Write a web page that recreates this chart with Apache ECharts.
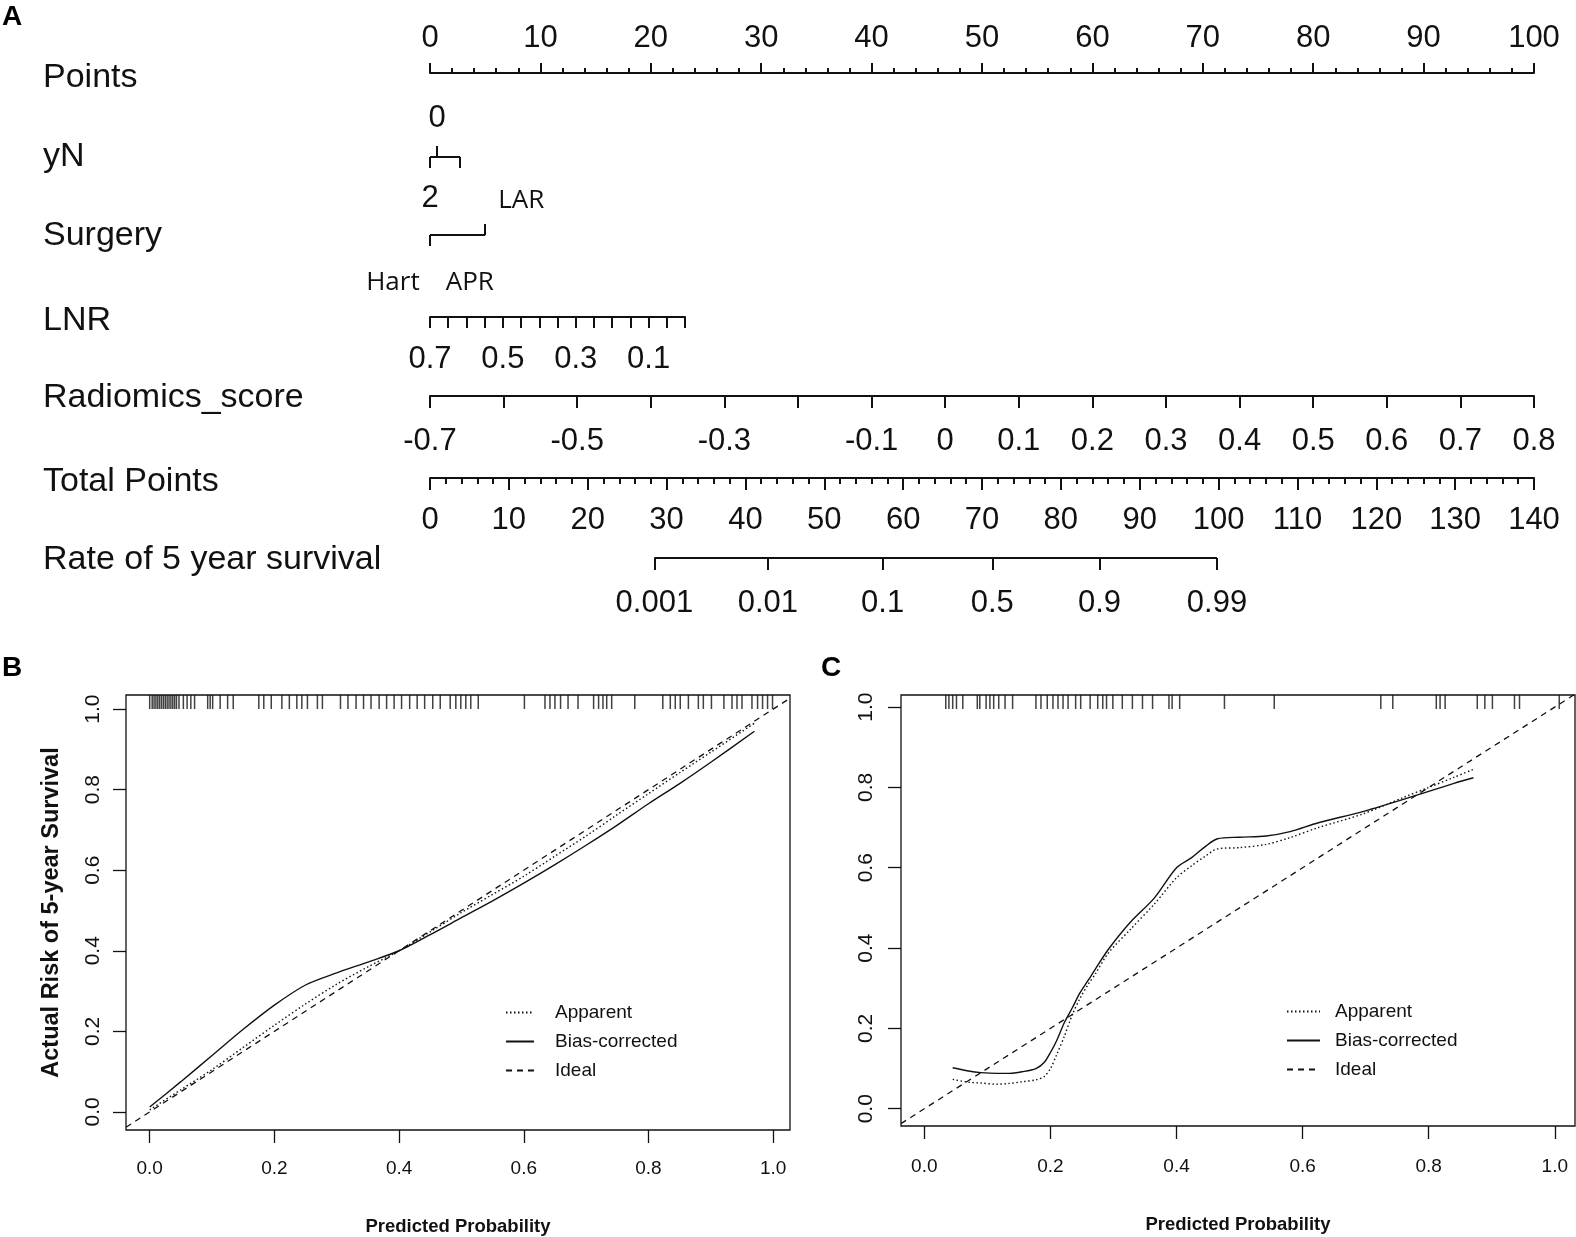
<!DOCTYPE html>
<html>
<head>
<meta charset="utf-8">
<script src="https://cdn.jsdelivr.net/npm/echarts@6/dist/echarts.min.js"></script>
<style>
  html, body { margin: 0; padding: 0; background: #fff; }
  #main { width: 1576px; height: 1237px; }
</style>
</head>
<body>
<div id="main"></div>
<script>
// ---- A: nomogram ----
var rowNames = ['Points', 'yN', 'Surgery', 'LNR', 'Radiomics_score', 'Total Points', 'Rate of 5 year survival'];
var yNLevels = ['0', '1', '2'];
var yNPoints = [0.64, 2.73, 0];
var surgeryLevels = ['Hart', 'APR', 'LAR'];
var surgeryPoints = [0, 0, 5.0];
var lnrLabels = [0.7, 0.5, 0.3, 0.1];
var radiomicsLabels = [-0.7, -0.5, -0.3, -0.1, 0, 0.1, 0.2, 0.3, 0.4, 0.5, 0.6, 0.7, 0.8];
var survivalProb = [0.001, 0.01, 0.1, 0.5, 0.9, 0.99];
var survivalTotalPoints = [28.45, 42.85, 57.4, 71.3, 84.9, 99.8];

// ---- B: calibration (training) ----
var bPred = [0.00, 0.05, 0.10, 0.15, 0.20, 0.25, 0.30, 0.35, 0.40, 0.45, 0.50, 0.55, 0.60, 0.65, 0.70, 0.75, 0.80, 0.85, 0.90, 0.97];
var bApparent = [0.005, 0.055, 0.105, 0.16, 0.215, 0.268, 0.317, 0.36, 0.40, 0.447, 0.495, 0.54, 0.585, 0.635, 0.685, 0.738, 0.79, 0.842, 0.893, 0.965];
var bBias = [0.012, 0.075, 0.14, 0.205, 0.265, 0.315, 0.345, 0.372, 0.40, 0.44, 0.482, 0.524, 0.568, 0.614, 0.662, 0.712, 0.765, 0.815, 0.868, 0.945];
var bRug = [0.000, 0.004, 0.007, 0.010, 0.013, 0.016, 0.019, 0.022, 0.025, 0.028, 0.031, 0.034, 0.037, 0.040, 0.043,
  0.047, 0.054, 0.060, 0.066, 0.072, 0.093, 0.097, 0.101, 0.113, 0.125, 0.134, 0.175, 0.183, 0.195, 0.212, 0.224,
  0.236, 0.244, 0.253, 0.269, 0.277, 0.306, 0.318, 0.331, 0.343, 0.355, 0.368, 0.380, 0.392, 0.404, 0.417, 0.429,
  0.441, 0.454, 0.466, 0.482, 0.491, 0.499, 0.507, 0.515, 0.527, 0.601, 0.634, 0.642, 0.650, 0.659, 0.671, 0.687,
  0.712, 0.720, 0.727, 0.733, 0.741, 0.778, 0.823, 0.835, 0.843, 0.851, 0.864, 0.880, 0.888, 0.901, 0.921, 0.934,
  0.942, 0.950, 0.966, 0.975, 0.983, 0.991, 0.999];

// ---- C: calibration (validation) ----
var cPred = [0.045, 0.07, 0.09, 0.115, 0.135, 0.155, 0.177, 0.19, 0.20, 0.21, 0.222, 0.235, 0.247, 0.26, 0.271, 0.292,
  0.326, 0.365, 0.40, 0.424, 0.445, 0.465, 0.50, 0.542, 0.58, 0.625, 0.694, 0.76, 0.80, 0.84, 0.871];
var cApparent = [0.073, 0.066, 0.064, 0.061, 0.063, 0.067, 0.072, 0.08, 0.10, 0.135, 0.18, 0.235, 0.275, 0.31, 0.335, 0.388,
  0.445, 0.51, 0.575, 0.605, 0.628, 0.647, 0.65, 0.658, 0.675, 0.70, 0.733, 0.775, 0.80, 0.825, 0.845];
var cBias = [0.102, 0.094, 0.09, 0.088, 0.088, 0.092, 0.10, 0.115, 0.14, 0.17, 0.214, 0.252, 0.289, 0.32, 0.347, 0.397,
  0.463, 0.525, 0.60, 0.625, 0.652, 0.672, 0.676, 0.679, 0.69, 0.712, 0.739, 0.77, 0.79, 0.81, 0.824];
var cRug = [0.034, 0.039, 0.045, 0.051, 0.061, 0.084, 0.088, 0.098, 0.104, 0.110, 0.118, 0.128, 0.140, 0.177, 0.185,
  0.195, 0.204, 0.212, 0.220, 0.228, 0.240, 0.248, 0.263, 0.275, 0.283, 0.289, 0.299, 0.314, 0.330, 0.346, 0.362,
  0.388, 0.393, 0.405, 0.476, 0.555, 0.724, 0.743, 0.812, 0.818, 0.826, 0.877, 0.889, 0.901, 0.936, 0.944, 1.007];

var calTicks = [0, 0.2, 0.4, 0.6, 0.8, 1.0];
var legendNames = ['Apparent', 'Bias-corrected', 'Ideal'];

// ---- layout / style ----
var INK = '#111';
var RFONT = '"Liberation Sans", Arial, sans-serif';
var LABELFONT = '"Open Sans", "Noto Sans", sans-serif';
var rowY = [73, 157, 235, 317, 396, 478, 558];
var rowLabelY = [78, 157, 236, 321, 398, 482, 560];
var bRange = { xMin: -0.038, xMax: 1.027, yMin: -0.045, yMax: 1.035 };
var cRange = { xMin: -0.037, xMax: 1.032, yMin: -0.043, yMax: 1.03 };

function nomoAxis(o) {
  return {
    gridIndex: o.grid, type: 'value', position: o.pos, min: o.min, max: o.max,
    inverse: !!o.inverse, interval: o.interval,
    splitLine: { show: false },
    axisLine: { show: o.line !== false, onZero: false, lineStyle: { color: INK, width: 2 } },
    axisTick: { show: true, length: o.tick || 10, customValues: o.tickValues, lineStyle: { color: INK, width: 2 } },
    minorTick: { show: !!o.minor, splitNumber: 5, length: o.minor || 5, lineStyle: { color: INK, width: 2 } },
    axisLabel: {
      show: o.labels !== false, customValues: o.labelValues, formatter: o.formatter, margin: o.margin,
      color: INK, fontFamily: o.font || RFONT, fontSize: o.size || 31, align: o.align, padding: o.padding
    }
  };
}

function calX(grid, r, margin, gap) {
  return {
    gridIndex: grid, type: 'value', min: r.xMin, max: r.xMax,
    splitLine: { show: false },
    axisLine: { show: false, onZero: false },
    axisTick: { show: true, customValues: calTicks, length: 13, lineStyle: { color: INK, width: 1.3 } },
    axisLabel: {
      customValues: calTicks, margin: margin, color: INK, fontFamily: RFONT, fontSize: 19,
      formatter: function (v) { return v.toFixed(1); }
    },
    name: 'Predicted Probability', nameLocation: 'middle', nameGap: gap,
    nameTextStyle: { fontFamily: RFONT, fontWeight: 'bold', fontSize: 18.5, color: INK }
  };
}

function calY(grid, r, margin, title) {
  return {
    gridIndex: grid, type: 'value', min: r.yMin, max: r.yMax,
    splitLine: { show: false },
    axisLine: { show: false, onZero: false },
    axisTick: { show: true, customValues: calTicks, length: 13, lineStyle: { color: INK, width: 1.3 } },
    axisLabel: {
      customValues: calTicks, margin: margin, rotate: 90, color: INK, fontFamily: RFONT, fontSize: 21,
      formatter: function (v) { return v.toFixed(1); }
    },
    name: title, nameLocation: 'middle', nameGap: 62,
    nameTextStyle: { fontFamily: RFONT, fontWeight: 'bold', fontSize: 23.5, color: INK }
  };
}

function pairs(xs, ys) {
  return xs.map(function (x, i) { return [x, ys[i]]; });
}

function segment(xIdx, yIdx, values) {
  return {
    type: 'line', xAxisIndex: xIdx, yAxisIndex: yIdx, silent: true, symbol: 'none',
    data: [[Math.min.apply(null, values), 0], [Math.max.apply(null, values), 0]],
    lineStyle: { color: INK, width: 2 }
  };
}

function calSeries(xIdx, yIdx, r, pred, app, bias, rug) {
  return [
    {
      name: 'Apparent', type: 'line', xAxisIndex: xIdx, yAxisIndex: yIdx, symbol: 'none', color: INK,
      smooth: 0.3, data: pairs(pred, app),
      lineStyle: { color: INK, width: 1.4, type: [1.5, 2.5] }
    },
    {
      name: 'Bias-corrected', type: 'line', xAxisIndex: xIdx, yAxisIndex: yIdx, symbol: 'none', color: INK,
      smooth: 0.3, data: pairs(pred, bias),
      lineStyle: { color: INK, width: 1.4, type: 'solid' }
    },
    {
      name: 'Ideal', type: 'line', xAxisIndex: xIdx, yAxisIndex: yIdx, symbol: 'none', color: INK,
      data: [[r.xMin, r.xMin], [r.xMax, r.xMax]],
      lineStyle: { color: INK, width: 1.3, type: [6, 5] }
    },
    {
      type: 'scatter', xAxisIndex: xIdx, yAxisIndex: yIdx, silent: true,
      symbol: 'rect', symbolSize: [1.5, 14], symbolOffset: [0, 7],
      data: rug.map(function (x) { return [x, r.yMax]; }),
      itemStyle: { color: INK }
    }
  ];
}

var chart = echarts.init(document.getElementById('main'), null, { renderer: 'canvas' });

var grids = [];
for (var i = 0; i < rowY.length; i++) {
  grids.push({ left: 430, right: 42, top: rowY[i], height: 0, outerBoundsMode: 'none' });
}
grids[3].right = 891; // LNR row spans 0.7 .. 0
grids.push({ left: 126, right: 786, top: 695, bottom: 107, show: true,
  borderColor: INK, borderWidth: 1.3, backgroundColor: 'transparent', outerBoundsMode: 'none' });
grids.push({ left: 901, right: 1, top: 695, bottom: 111, show: true,
  borderColor: INK, borderWidth: 1.3, backgroundColor: 'transparent', outerBoundsMode: 'none' });

var yAxes = [];
for (var j = 0; j < rowY.length; j++) {
  yAxes.push({ gridIndex: j, type: 'value', min: 0, max: 1, show: false });
}
yAxes.push(calY(7, bRange, 22, 'Actual Risk of 5-year Survival'));
yAxes.push(calY(8, cRange, 24, ''));

var xAxes = [
  // 0 Points
  nomoAxis({ grid: 0, pos: 'top', min: 0, max: 100, interval: 10, tick: 10, minor: 5, margin: 19 }),
  // 1 yN above
  nomoAxis({ grid: 1, pos: 'top', min: 0, max: 100, line: false, tick: 11,
    tickValues: [yNPoints[0]], labelValues: [yNPoints[0]], margin: 23,
    formatter: function (v) { return yNLevels[yNPoints.indexOf(v)]; } }),
  // 2 yN below
  nomoAxis({ grid: 1, pos: 'bottom', min: 0, max: 100, line: false, tick: 11,
    tickValues: [yNPoints[1], yNPoints[2]], labelValues: [yNPoints[2]], margin: 26,
    formatter: function (v) { return yNLevels[yNPoints.indexOf(v)]; } }),
  // 3 Surgery above
  nomoAxis({ grid: 2, pos: 'top', min: 0, max: 100, line: false, tick: 11,
    tickValues: [surgeryPoints[2]], labelValues: [surgeryPoints[2]], margin: 21,
    font: LABELFONT, size: 26, align: 'left', padding: [0, 0, 0, 13],
    formatter: function () { return surgeryLevels[2]; } }),
  // 4 Surgery below
  nomoAxis({ grid: 2, pos: 'bottom', min: 0, max: 100, line: false, tick: 11,
    tickValues: [0], labelValues: [0], margin: 35, font: LABELFONT, size: 26,
    formatter: function (v) {
      return surgeryLevels.filter(function (s, k) { return surgeryPoints[k] === v; }).join('\u2003');
    } }),
  // 5 LNR
  nomoAxis({ grid: 3, pos: 'bottom', min: 0, max: 0.7, inverse: true, interval: 0.05, tick: 11,
    labelValues: lnrLabels, margin: 27, formatter: function (v) { return v.toFixed(1); } }),
  // 6 Radiomics_score
  nomoAxis({ grid: 4, pos: 'bottom', min: -0.7, max: 0.8, interval: 0.1, tick: 12,
    labelValues: radiomicsLabels, margin: 30,
    formatter: function (v) { return String(Math.round(v * 10) / 10); } }),
  // 7 Total Points
  nomoAxis({ grid: 5, pos: 'bottom', min: 0, max: 140, interval: 10, tick: 12, minor: 6, margin: 27 }),
  // 8 Rate of 5 year survival
  nomoAxis({ grid: 6, pos: 'bottom', min: 0, max: 140, line: false, tick: 12,
    tickValues: survivalTotalPoints, labelValues: survivalTotalPoints, margin: 30,
    formatter: function (v) { return String(survivalProb[survivalTotalPoints.indexOf(v)]); } }),
  // 9, 10 calibration x axes
  calX(7, bRange, 29.5, 87),
  calX(8, cRange, 31.5, 89)
];

var series = [
  segment(2, 1, yNPoints),
  segment(4, 2, surgeryPoints),
  segment(8, 6, survivalTotalPoints)
].concat(
  calSeries(9, 7, bRange, bPred, bApparent, bBias, bRug),
  calSeries(10, 8, cRange, cPred, cApparent, cBias, cRug)
);

function legendAt(left, top, w, pad) {
  return {
    left: left, top: top, orient: 'vertical', data: legendNames, selectedMode: false,
    padding: 0, itemWidth: w, itemHeight: 14, itemGap: 10,
    itemStyle: { color: 'transparent', borderColor: 'transparent', borderWidth: 0 },
    textStyle: { fontFamily: RFONT, fontSize: 19, color: INK, padding: [0, 0, 0, pad] }
  };
}

var graphic = rowNames.map(function (n, k) {
  return { type: 'text', x: 43, y: rowLabelY[k], silent: true,
    style: { text: n, fontFamily: RFONT, fontSize: 34, fill: INK, verticalAlign: 'middle' } };
});
[['A', 2, 17], ['B', 2, 668], ['C', 821, 668]].forEach(function (p) {
  graphic.push({ type: 'text', x: p[1], y: p[2], silent: true,
    style: { text: p[0], fontFamily: RFONT, fontWeight: 'bold', fontSize: 28, fill: '#000', verticalAlign: 'middle' } });
});

chart.setOption({
  animation: false,
  backgroundColor: '#fff',
  grid: grids,
  xAxis: xAxes,
  yAxis: yAxes,
  legend: [legendAt(505, 1003, 28, 16), legendAt(1286, 1002, 33, 10)],
  graphic: graphic,
  series: series
});
</script>
</body>
</html>
